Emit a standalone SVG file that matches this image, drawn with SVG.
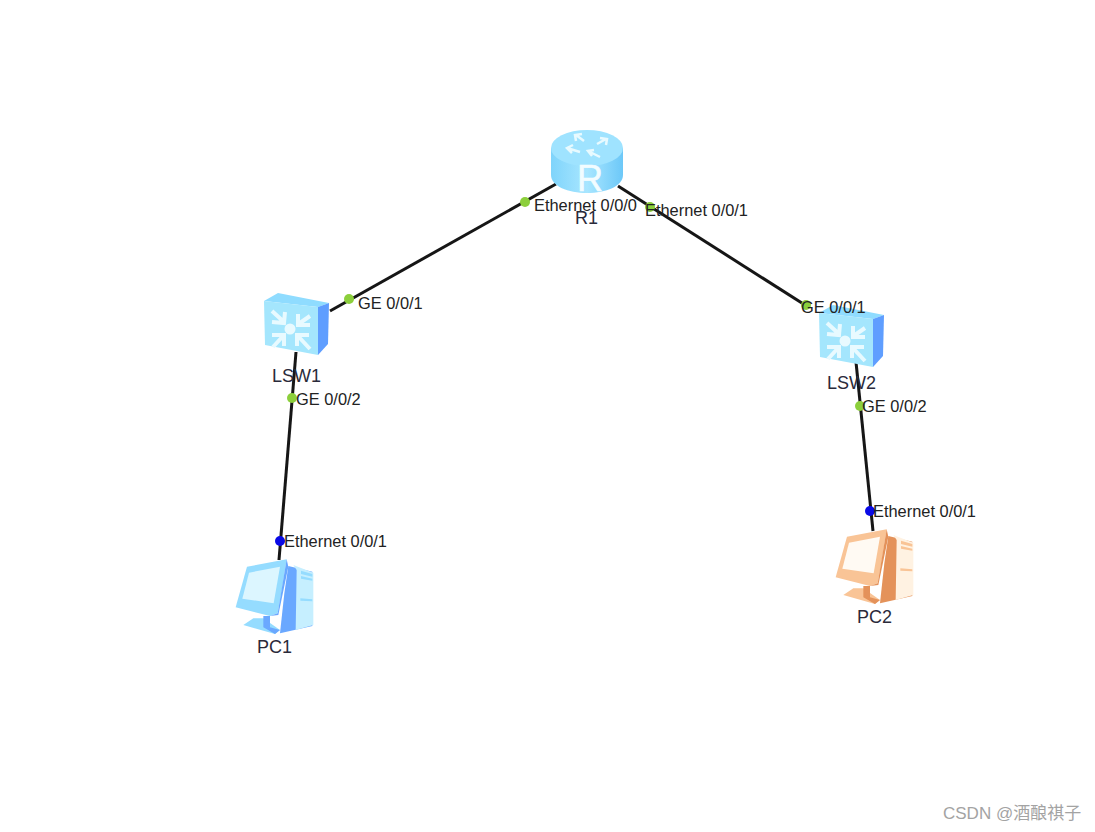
<svg xmlns="http://www.w3.org/2000/svg" width="1095" height="832" viewBox="0 0 1095 832">
<style>
text{font-family:"Liberation Sans",Arial,sans-serif;font-size:16.4px;fill:#222}
text.wm{font-family:"Liberation Sans","Noto Sans CJK SC",sans-serif;fill:#a3a3a3;font-size:17px}
text.name{font-size:18px;fill:#2a2a3a}
.link{stroke:#161616;stroke-width:3;fill:none}
.g{fill:#8ccf3c}.b{fill:#0a0ae6}
.ico{filter:url(#soft)}
.f1{fill:var(--c1)}.f2{fill:var(--c2)}.f3{fill:var(--c3)}.f4{fill:var(--c4)}
.blue{--c1:#c6efff;--c2:#95dcff;--c3:#6aa8ff;--c4:#dcf6ff}
.orange{--c1:#fff2e2;--c2:#f9c496;--c3:#e4925a;--c4:#fffaf3}
</style>
<defs>
<filter id="soft" x="-5%" y="-5%" width="110%" height="110%"><feGaussianBlur stdDeviation="0.5"/></filter>
<linearGradient id="rb" x1="0" x2="1" y1="0" y2="0"><stop offset="0" stop-color="#7fd4fb"/><stop offset=".5" stop-color="#a8e6ff"/><stop offset="1" stop-color="#6cc8f8"/></linearGradient>
<g id="sw">
<path d="M264 301L278 293L329 303L318 307Z" fill="#8fdcff"/>
<path d="M264 301L318 307V355L265 345Z" fill="#a4e6fd"/>
<path d="M318 307L329 303L328 344L318 355Z" fill="#5f9eff"/>
<circle cx="290" cy="329" r="5.5" fill="#e8faff"/>
<g stroke="#e8faff" stroke-width="4" fill="none">
<path d="M272 311L284 322M272 322L284 323L285 312"/>
<path d="M310 316L297 325M298 314V325H310"/>
<path d="M273 347L284 335M272 335H284V346"/>
<path d="M310 349L297 335M297 346V335H309"/>
</g>
</g>
<g id="pc" transform="scale(.33333)">
<path class="f3" d="M190 48L262 65V228L165 250L178 130Z"/>
<path class="f1" d="M205 45L265 68V225L212 240L215 60Z"/>
<path class="f2" d="M228 62L262 72V80L228 72ZM228 78L262 86V92L228 86ZM226 145L262 148V154L226 152Z"/>
<path class="f2" d="M66 50L185 28L172 110L158 190L135 198L32 172Z"/>
<path class="f3" d="M185 28L190 50L160 195L135 198L158 190Z"/>
<path class="f4" d="M72 68L165 50L146 160L52 146Z"/>
<path class="f2" d="M55 225L85 205H115L165 240L150 252Z"/>
<path class="f3" d="M115 198H135L135 232L165 240L150 252L115 232Z"/>
</g>
</defs>

<g id="connectors">
<path class="link" d="M556 184L330 311"/>
<path class="link" d="M618 186L805 305"/>
<path class="link" d="M296 352L279 560"/>
<path class="link" d="M856 362L873 531"/>
</g>

<g id="R1">
<g class="ico">
<path d="M551 148V175C551 186 568 193 587 193S623 186 623 175V148Z" fill="url(#rb)"/>
<ellipse cx="587" cy="148" rx="36" ry="18" fill="#9fe3ff"/>
<g stroke="#e8faff" stroke-width="2.5" fill="none">
<path d="M576 135L584 141M576 141L575 135L582 134"/>
<path d="M606 139L597 144M606 145L607 139L600 138"/>
<path d="M567 148L580 152M572 153L567 148L573 145"/>
<path d="M600 157L588 151M594 150L588 151L592 156"/>
</g>
</g>
<text x="577" y="191" style="font-size:36px;fill:#f2fcff;stroke:#f2fcff;stroke-width:.6">R</text>
<text class="name" x="575" y="224">R1</text>
</g>

<g id="LSW1">
<use href="#sw" class="ico"/>
<text class="name" x="272" y="382">LSW1</text>
</g>

<g id="LSW2">
<use href="#sw" class="ico" transform="translate(555,12)"/>
<text class="name" x="827" y="389">LSW2</text>
</g>

<g id="PC1">
<g class="ico blue" transform="translate(225,550)">
<use href="#pc"/>
</g>
<text class="name" x="257" y="653">PC1</text>
</g>

<g id="PC2">
<g class="ico orange" transform="translate(825,520)">
<use href="#pc"/>
</g>
<text class="name" x="857" y="623">PC2</text>
</g>

<g id="ports">
<circle class="g" cx="525" cy="202" r="5"/><text x="534" y="211">Ethernet 0/0/0</text>
<circle class="g" cx="650" cy="207" r="5"/><text x="645" y="216">Ethernet 0/0/1</text>
<circle class="g" cx="349" cy="299" r="5"/><text x="358" y="309">GE 0/0/1</text>
<circle class="g" cx="806" cy="305" r="5"/><text x="801" y="313">GE 0/0/1</text>
<circle class="g" cx="292" cy="398" r="5"/><text x="296" y="405">GE 0/0/2</text>
<circle class="g" cx="860" cy="406" r="5"/><text x="862" y="412">GE 0/0/2</text>
<circle class="b" cx="280" cy="541" r="5"/><text x="284" y="547">Ethernet 0/0/1</text>
<circle class="b" cx="870" cy="511" r="5"/><text x="873" y="517">Ethernet 0/0/1</text>
</g>
<text class="wm" x="943" y="819">CSDN @酒酿祺子</text>
</svg>
